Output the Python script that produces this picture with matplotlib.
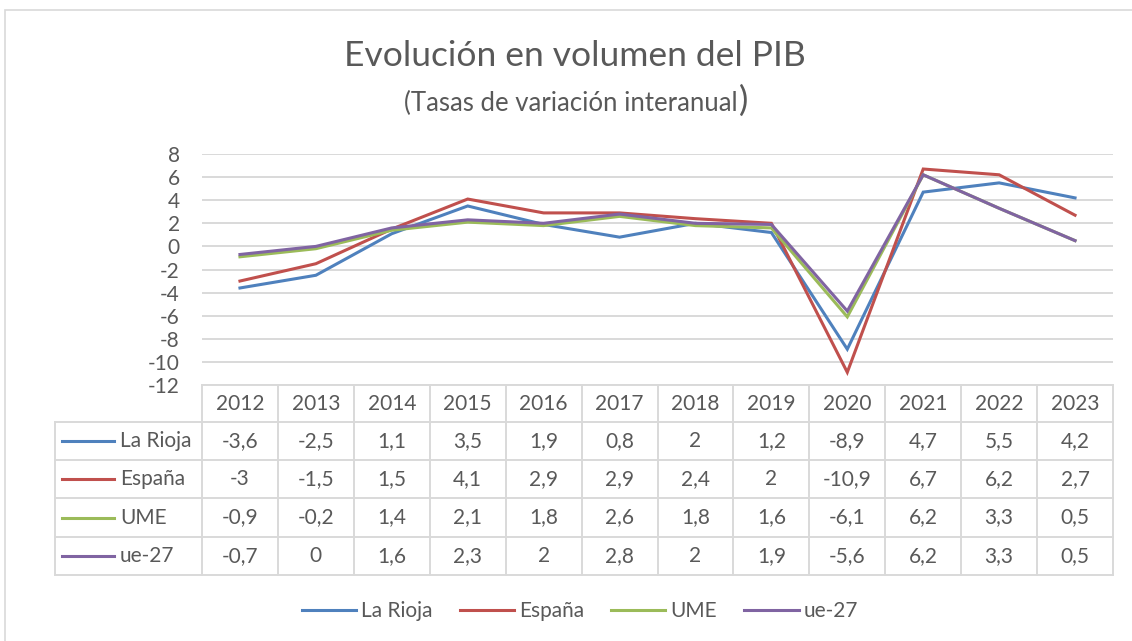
import matplotlib
matplotlib.use("Agg")
import matplotlib.pyplot as plt
from matplotlib.patches import Rectangle

years = ["2012", "2013", "2014", "2015", "2016", "2017", "2018", "2019", "2020", "2021", "2022", "2023"]
la_rioja = [-3.6, -2.5, 1.1, 3.5, 1.9, 0.8, 2, 1.2, -8.9, 4.7, 5.5, 4.2]
espana = [-3, -1.5, 1.5, 4.1, 2.9, 2.9, 2.4, 2, -10.9, 6.7, 6.2, 2.7]
ume = [-0.9, -0.2, 1.4, 2.1, 1.8, 2.6, 1.8, 1.6, -6.1, 6.2, 3.3, 0.5]
ue27 = [-0.7, 0, 1.6, 2.3, 2, 2.8, 2, 1.9, -5.6, 6.2, 3.3, 0.5]
series_names = ["La Rioja", "España", "UME", "ue-27"]
series_values = [la_rioja, espana, ume, ue27]
colors = ["#4F81BD", "#C0504D", "#9BBB59", "#8064A2"]
yticks = [-12, -10, -8, -6, -4, -2, 0, 2, 4, 6, 8]

plt.rcParams['font.family'] = ['Lato', 'DejaVu Sans']
TXT = "#595959"
GRID = "#d9d9d9"

W, H = 1132, 641
fig = plt.figure(figsize=(W / 100, H / 100), dpi=100)

def fx(px):
    return px / W

def fy(py):
    return (H - py) / H

# outer border
fig.patches.append(Rectangle((fx(5), fy(700)), fx(1200), fy(10) - fy(700),
                             transform=fig.transFigure, fill=False,
                             edgecolor=GRID, lw=1.2))

# main plot area
L, R, T, B = 202, 1113, 154, 385
ax = fig.add_axes([fx(L), fy(B), fx(R) - fx(L), fy(T) - fy(B)])
x = list(range(len(years)))
for name, vals, c in zip(series_names, series_values, colors):
    ax.plot(x, vals, color=c, lw=2.2, label=name, solid_joinstyle='miter')
ax.set_xlim(-0.5, len(years) - 0.5)
ax.set_ylim(-12, 8)
ax.set_yticks(yticks)
ax.set_yticklabels([str(t) for t in yticks], fontsize=15, color=TXT)
ax.tick_params(axis='y', length=0, pad=16)
ax.set_xticks([])
for s in ax.spines.values():
    s.set_visible(False)
ax.grid(axis='y', color=GRID, lw=1.4)
ax.set_axisbelow(True)
ax.patch.set_alpha(0)

# data table
TL, TB = 55, 575
colw = (R - L) / len(years)
legcol = (L - TL) / colw
tax = fig.add_axes([fx(TL), fy(TB), fx(R) - fx(TL), fy(B) - fy(TB)])
tax.set_xlim(-0.5 - legcol, len(years) - 0.5)
tax.set_ylim(TB, B)
tax.axis('off')
rows_y = [385, 422, 460, 498, 537, 575]
tax.plot([-0.5, len(years) - 0.5], [rows_y[0]] * 2, color=GRID, lw=1.4, clip_on=False)
for yy in rows_y[1:]:
    tax.plot([-0.5 - legcol, len(years) - 0.5], [yy, yy], color=GRID, lw=1.4, clip_on=False)
tax.plot([-0.5 - legcol] * 2, [rows_y[1], rows_y[-1]], color=GRID, lw=1.4, clip_on=False)
for i in range(len(years) + 1):
    tax.plot([i - 0.5] * 2, [rows_y[0], rows_y[-1]], color=GRID, lw=1.4, clip_on=False)

def fmt(v):
    if float(v).is_integer():
        return str(int(v))
    return str(v).replace('.', ',')

hy = (rows_y[0] + rows_y[1]) / 2
for i, yr in enumerate(years):
    tax.text(i, hy, yr, ha='center', va='center', fontsize=15, color=TXT)
for r, (name, vals, c) in enumerate(zip(series_names, series_values, colors)):
    cy = (rows_y[r + 1] + rows_y[r + 2]) / 2
    x0 = -0.5 - legcol + 7 / colw
    x1 = x0 + 52 / colw
    tax.plot([x0, x1], [cy, cy], color=c, lw=2.2, clip_on=False)
    tax.text(x1 + 6 / colw, cy, name, ha='left', va='center', fontsize=15, color=TXT)
    for i, v in enumerate(vals):
        tax.text(i, cy, fmt(v), ha='center', va='center', fontsize=15, color=TXT)

# titles
fig.text(fx(575), fy(56), "Evolución en volumen del PIB", ha='center', va='center',
         fontsize=25.5, color=TXT)
fig.text(fx(738), fy(103), "(Tasas de variación interanual", ha='right', va='center',
         fontsize=18.5, color=TXT)
fig.text(fx(739), fy(101), ")", ha='left', va='center',
         fontsize=25, color=TXT)

# legend
handles, labels = ax.get_legend_handles_labels()
fig.legend(handles, labels, loc='center', bbox_to_anchor=(fx(580), fy(611)),
           ncol=4, frameon=False, fontsize=15, handlelength=2.6, handletextpad=0.25,
           columnspacing=1.3, labelcolor=TXT)

fig.savefig("out.png", dpi=100)
